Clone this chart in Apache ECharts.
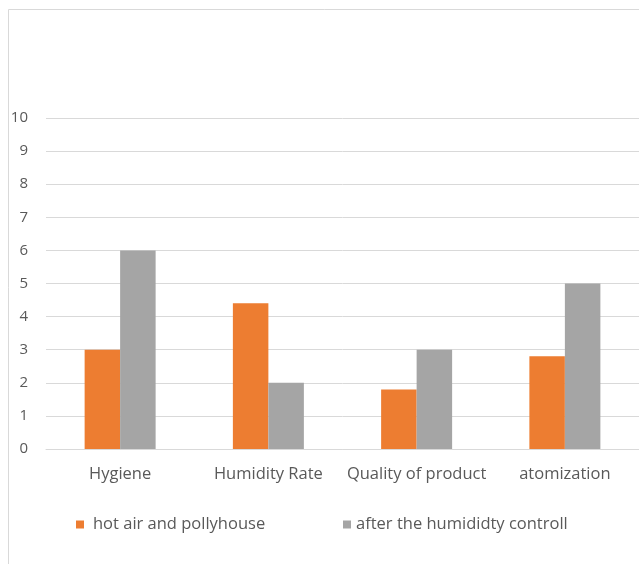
<!DOCTYPE html>
<html><head><meta charset="utf-8">
<script src="https://cdn.jsdelivr.net/npm/echarts@6/dist/echarts.min.js"></script>
<style>html,body{margin:0;padding:0;background:#fff}#c{width:639px;height:564px}</style>
</head><body><div id="c"></div>
<script>
const categories = ['Hygiene', 'Humidity Rate', 'Quality of product', 'atomization'];
const seriesNames = ['hot air and pollyhouse', 'after the humididty controll'];
const hotAir = [3, 4.4, 1.8, 2.8];
const afterControl = [6, 2, 3, 5];
const yTicks = { min: 0, max: 10, interval: 1 };

const FONT = 'Open Sans';
const FS = 16.5;
const chart = echarts.init(document.getElementById('c'), null, { renderer: 'canvas' });
chart.setOption({
  animation: false,
  textStyle: { fontFamily: FONT },
  graphic: [{
    type: 'rect', left: 6, top: 7, silent: true,
    shape: { x: 0.5, y: 0.5, width: 700, height: 700 },
    style: { fill: 'none', stroke: '#d9d9d9', lineWidth: 1 }
  }],
  grid: { left: 46, top: 118, width: 597, height: 331, containLabel: false },
  legend: [
    { data: [seriesNames[0]], left: 76, top: 516, padding: 0, icon: 'rect', itemWidth: 8, itemHeight: 8, itemGap: 0,
      textStyle: { color: '#595959', fontSize: FS, fontFamily: FONT, padding: [0, 0, 0, 4] } },
    { data: [seriesNames[1]], left: 343, top: 516, padding: 0, icon: 'rect', itemWidth: 8, itemHeight: 8, itemGap: 0,
      textStyle: { color: '#595959', fontSize: FS, fontFamily: FONT, padding: [0, 0, 0, 0] } }
  ],
  xAxis: {
    type: 'category', data: categories,
    axisLine: { lineStyle: { color: '#d9d9d9', width: 1 } },
    axisTick: { show: false },
    axisLabel: { color: '#595959', fontSize: FS, margin: 17, interval: 0, fontFamily: FONT }
  },
  yAxis: {
    type: 'value', min: yTicks.min, max: yTicks.max, interval: yTicks.interval,
    axisLine: { show: false }, axisTick: { show: false },
    splitLine: { lineStyle: { color: '#d9d9d9', width: 1 } },
    axisLabel: { color: '#595959', fontSize: 15, margin: 18, fontFamily: FONT }
  },
  series: [
    { name: seriesNames[0], type: 'bar', data: hotAir, barWidth: 35.5, barGap: '0%',
      itemStyle: { color: '#ED7D31' } },
    { name: seriesNames[1], type: 'bar', data: afterControl, barWidth: 35.5, barGap: '0%',
      itemStyle: { color: '#A5A5A5' } }
  ]
});
</script></body></html>
